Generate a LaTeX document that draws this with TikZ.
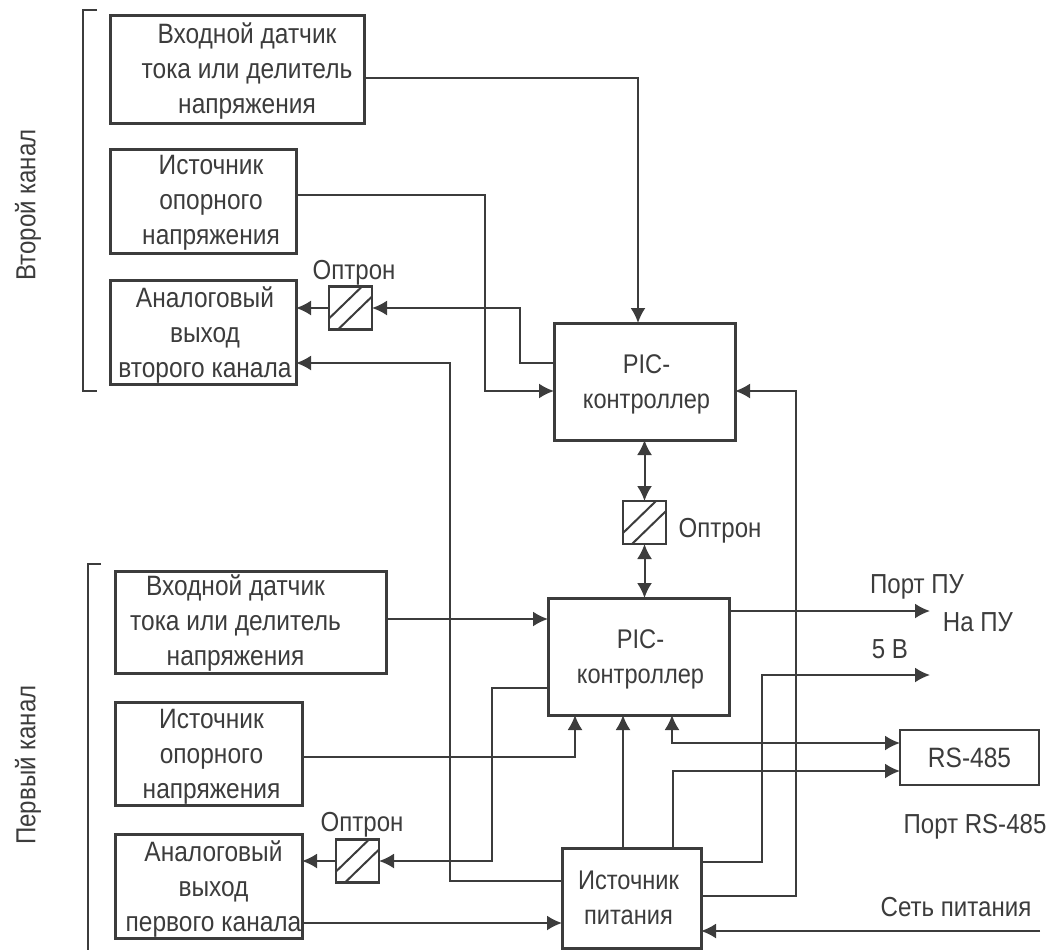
\documentclass[tikz,border=0pt]{standalone}
\usepackage{fontspec}
\setmainfont[FakeStretch=0.875]{Liberation Sans}
\usetikzlibrary{arrows.meta}
\definecolor{ink}{HTML}{3C3C3C}
\tikzset{
  x=1pt,y=-1pt,
  bx/.style={draw=ink,line width=3pt,inner sep=0pt,outer sep=0pt},
  txt/.style={text=ink,align=center,inner sep=0pt,outer sep=0pt,font=\fontsize{28}{35}\selectfont},
  pictxt/.style={txt,font=\fontsize{27}{35}\selectfont},
  opt/.style={draw=ink,line width=2.6pt,minimum width=43pt,minimum height=43pt,inner sep=0pt,outer sep=0pt},
  lab/.style={text=ink,inner sep=0pt,font=\fontsize{27.5}{32}\selectfont},
  conn/.style={draw=ink,line width=2pt,-{Latex[length=15pt,width=15pt]}},
  line/.style={draw=ink,line width=2pt},
  both/.style={draw=ink,line width=2pt,{Latex[length=15pt,width=15pt]}-{Latex[length=15pt,width=15pt]}},
  brk/.style={draw=ink,line width=1.6pt},
}
\begin{document}
\begin{tikzpicture}
\useasboundingbox (0,0) rectangle (1049,950);
% boxes
\node[bx,minimum width=254pt,minimum height=107pt,label={[txt,xshift=10pt,yshift=-2pt]center:Входной датчик\\тока или делитель\\напряжения}] (b1) at (237,69.5) {};
\node[bx,minimum width=186pt,minimum height=104pt,label={[txt,xshift=8pt,yshift=-2pt]center:Источник\\опорного\\напряжения}] (b2) at (203,201) {};
\node[bx,minimum width=186pt,minimum height=104pt,label={[txt,xshift=2pt,yshift=-3pt]center:Аналоговый\\выход\\второго канала}] (b3) at (203,332) {};
\node[bx,minimum width=181pt,minimum height=117pt,label={[pictxt,xshift=2pt,yshift=-3pt]center:PIC-\\контроллер}] (pic2) at (644.5,381.5) {};
\node[bx,minimum width=271pt,minimum height=102pt,label={[txt,xshift=-15pt,yshift=-1pt]center:Входной датчик\\тока или делитель\\напряжения}] (b4) at (250.5,622) {};
\node[bx,minimum width=187pt,minimum height=103pt,label={[txt,xshift=3pt,yshift=-3pt]center:Источник\\опорного\\напряжения}] (b5) at (208.5,753.5) {};
\node[bx,minimum width=187pt,minimum height=104pt,label={[txt,xshift=5pt,yshift=-3pt]center:Аналоговый\\выход\\первого канала}] (b6) at (208.5,886) {};
\node[bx,minimum width=181pt,minimum height=117pt,label={[pictxt,xshift=2pt,yshift=-3pt]center:PIC-\\контроллер}] (pic1) at (638.5,656.5) {};
\node[bx,minimum width=139pt,minimum height=100pt,label={[pictxt,xshift=-3pt,yshift=0pt]center:Источник\\питания}] (psu) at (631.5,898) {};
\node[bx,line width=2.6pt,minimum width=139pt,minimum height=55pt,label={[txt]center:RS-485}] (rs) at (969.5,757.5) {};
% optocouplers
\node[opt] (o2) at (350.5,308) {};
\node[opt] (o0) at (644.5,522.5) {};
\node[opt] (o1) at (357.5,861) {};
\foreach \o in {o2,o0,o1}{
  \draw[line] ([yshift=11pt]\o.south west) -- ([xshift=-10pt]\o.north east);
  \draw[line] ([xshift=9pt]\o.south west) -- ([yshift=-10pt]\o.north east);
}
% labels
\node[lab,rotate=90] (l2) at (28,205) {Второй канал};
\node[lab,rotate=90] (l1) at (28,765) {Первый канал};
\node[lab] (lo2) at (354,273) {Оптрон};
\node[lab] (lo0) at (720,531) {Оптрон};
\node[lab] (lo1) at (362,825) {Оптрон};
\node[lab] (lpu) at (917,587) {Порт ПУ};
\node[lab] (lna) at (978,622) {На ПУ};
\node[lab] (l5) at (890,649) {5 В};
\node[lab] (lrs) at (975,827) {Порт RS-485};
\node[lab] (lnet) at (956,907) {Сеть питания};
% free ends
\coordinate (pu) at (930,611);
\coordinate (v5) at (930,675);
\coordinate (net) at (1040,931);
% second channel
\draw[conn] (b1.east |- 0,78) -| (pic2.north -| 638,0);
\draw[conn] (b2.east |- 0,195) -- (485,195) |- (pic2.west |- 0,391);
\draw[conn] (pic2.west |- 0,363) -- (520,363) |- (o2.east);
\draw[conn] (o2.west) -- (b3.east |- o2.west);
\draw[conn] (psu.west |- 0,881) -- (450,881) |- (b3.east |- 0,363);
\draw[conn] (psu.east |- 0,896) -- (796,896) |- (pic2.east |- 0,391);
% opto link
\draw[both] (pic2.south) -- (o0.north);
\draw[both] (o0.south) -- (pic1.north -| o0.south);
% first channel
\draw[conn] (b4.east |- 0,619) -- (pic1.west |- 0,619);
\draw[conn] (pic1.west |- 0,688) -- (492,688) |- (o1.east);
\draw[conn] (o1.west) -- (b6.east |- o1.west);
\draw[conn] (b5.east |- 0,757) -| (pic1.south -| 575,0);
\draw[conn] (psu.north -| 623,0) -- (pic1.south -| 623,0);
\draw[both] (pic1.south -| 672,0) |- (rs.west |- 0,743);
\draw[conn] (psu.north -| 673,0) |- (rs.west |- 0,771);
\draw[conn] (pic1.east |- pu) -- (pu);
\draw[conn] (psu.east |- 0,862) -- (762,862) |- (v5);
\draw[conn] (b6.east |- 0,923) -- (psu.west |- 0,923);
\draw[conn] (net) -- (psu.east |- net);
% brackets
\draw[brk] (97,10) -- (83,10) -- (83,391) -- (97,391);
\draw[brk] (101,564) -- (88,564) -- (88,950);
\end{tikzpicture}
\end{document}
